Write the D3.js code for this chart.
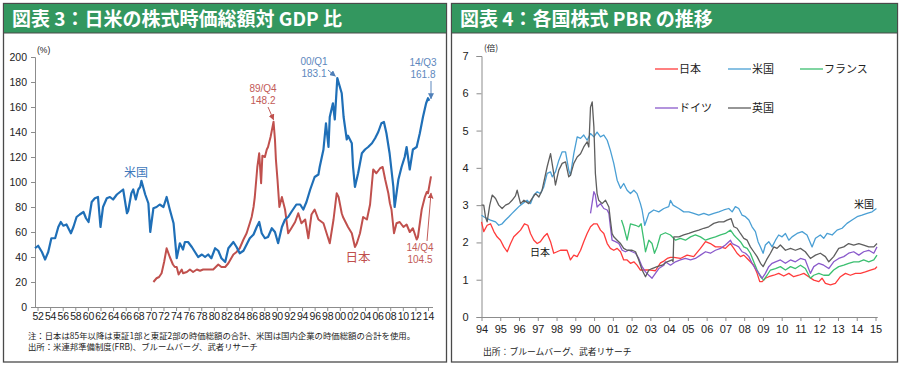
<!DOCTYPE html>
<html>
<head>
<meta charset="utf-8">
<script src="https://cdn.jsdelivr.net/npm/d3@7"></script>
<style>
  body { margin: 0; background: #fff; }
  svg { display: block; }
  .jp { font-family: "Noto Sans CJK JP", sans-serif; }
  .num { font-family: "Liberation Sans", Arial, sans-serif; }
</style>
</head>
<body>
<svg id="chart" width="900" height="366"></svg>
<script>
// ---- 図表3 : 株式時価総額対GDP比 (%), [年, 値]
const usGdp = [
  [1952.0,47],[1952.5,49],[1953.1,44],[1953.6,38],[1954.1,44],[1954.6,55],[1955.2,55],[1955.7,64],
  [1956.1,68],[1956.5,65],[1957.0,66],[1957.3,63],[1957.7,59],[1958.1,64],[1958.6,72],[1959.1,74],
  [1959.7,76],[1960.1,71],[1960.5,68],[1961.0,84],[1961.5,87],[1962.0,88],[1962.4,64],[1962.8,80],
  [1963.4,87],[1963.9,88],[1964.4,86],[1965.0,90],[1965.5,92],[1966.0,94],[1966.6,75],[1966.8,77],
  [1967.3,91],[1967.6,94],[1968.0,86],[1968.4,94],[1968.7,96],[1968.9,101],[1969.5,90],[1970.0,83],
  [1970.3,60],[1970.8,79],[1971.3,80],[1971.8,82],[1972.4,80],[1972.9,88],[1973.4,78],[1974.0,67],
  [1974.5,39],[1975.0,51],[1975.5,46],[1975.8,52],[1976.3,52],[1976.9,48],[1977.4,44],[1977.9,40],
  [1978.5,42],[1979.0,40],[1979.5,42],[1980.0,39],[1980.6,47],[1981.1,45],[1981.6,39],[1982.2,36],
  [1982.7,47],[1983.5,52],[1984.0,48],[1984.5,43],[1985.1,45],[1985.6,50],[1986.1,55],[1986.7,58],
  [1987.2,64],[1987.6,68],[1988.0,59],[1988.5,55],[1989.0,56],[1989.6,63],[1990.1,60],[1990.6,51],
  [1991.2,64],[1991.7,70],[1992.2,72],[1992.7,76],[1993.5,82],[1994.1,82],[1994.6,78],[1995.1,84],
  [1995.7,94],[1996.4,104],[1997.0,106],[1997.2,112],[1997.8,126],[1998.2,147],[1998.6,128],[1998.8,152],
  [1999.3,163],[1999.6,150],[2000.0,183.1],[2000.7,171],[2001.0,152],[2001.5,134],[2001.7,137],[2002.3,131],
  [2002.5,112],[2002.8,96],[2003.3,107],[2003.9,123],[2004.4,126],[2004.9,128],[2005.5,131],[2006.0,135],
  [2006.5,140],[2007.0,147],[2007.4,148],[2007.8,139],[2008.3,123],[2008.9,96],[2009.1,80],[2009.7,102],
  [2010.2,112],[2010.7,120],[2011.0,128],[2011.5,110],[2012.0,126],[2012.6,128],[2013.1,139],[2013.6,152],
  [2014.1,163],[2014.4,167],[2014.6,165]
];
const jpGdp = [
  [1970.8,20],[1971.3,23],[1971.7,24],[1972.1,27],[1972.5,36],[1972.9,47],[1973.4,40],[1973.9,34],
  [1974.2,32],[1974.5,32],[1974.8,26],[1975.3,30],[1975.5,27],[1976.1,28],[1976.6,30],[1977.1,28],
  [1977.7,30],[1978.2,29],[1978.7,30],[1979.2,30],[1979.8,30],[1980.3,30],[1981.1,34],[1981.6,32],
  [1982.2,32],[1982.7,35],[1983.5,42],[1984.0,44],[1984.5,47],[1985.1,54],[1985.6,59],[1986.1,67],
  [1986.4,72],[1986.7,80],[1986.9,88],[1987.3,112],[1987.6,123],[1987.9,99],[1988.1,121],[1988.5,120],
  [1988.8,126],[1989.0,128],[1989.4,136],[1989.875,148.2],[1990.1,134],[1990.25,118],[1990.5,102],[1990.8,80],
  [1991.2,88],[1991.7,78],[1992.2,59],[1992.7,63],[1993.3,68],[1993.8,75],[1994.3,67],[1994.9,70],
  [1995.4,55],[1995.9,74],[1996.4,78],[1997.0,70],[1997.8,67],[1998.3,59],[1998.8,51],[1999.4,70],
  [1999.9,91],[2000.2,88],[2000.7,75],[2000.9,72],[2001.7,64],[2002.3,59],[2002.8,48],[2003.1,51],
  [2003.6,59],[2004.1,72],[2004.7,70],[2005.2,82],[2005.7,110],[2006.2,107],[2006.8,111],[2007.2,112],
  [2007.6,102],[2008.1,91],[2008.35,83],[2008.6,78],[2009.0,59],[2009.4,67],[2009.9,68],[2010.5,64],
  [2011.0,66],[2011.5,60],[2012.0,63],[2012.6,54],[2012.8,56],[2013.4,78],[2013.9,88],[2014.2,92],
  [2014.4,91],[2014.875,104.5]
];
const gdpYTicks = [0, 20, 40, 60, 80, 100, 120, 140, 160, 180, 200];
const gdpXLabels = ["52","54","56","58","60","62","64","66","68","70","72","74","76","78","80","82",
  "84","86","88","90","92","94","96","98","00","02","04","06","08","10","12","14"];

// ---- 図表4 : 各国株式PBR (倍), [年, 値]
const pbrSeries = ["日本", "米国", "フランス", "ドイツ", "英国"];
const pbrJapan = [
  [1994.0,2.55],[1994.12,2.29],[1994.3,2.46],[1994.48,2.5],[1994.66,2.29],[1994.83,2.15],[1995.01,2.06],
  [1995.19,1.88],[1995.37,1.75],[1995.55,1.97],[1995.72,2.15],[1995.9,2.24],[1996.08,2.33],[1996.29,2.5],
  [1996.47,2.46],[1996.61,2.24],[1996.79,2.06],[1996.97,1.97],[1997.14,2.02],[1997.32,2.15],[1997.5,2.24],
  [1997.68,2.02],[1997.85,1.71],[1998.03,1.75],[1998.21,1.79],[1998.39,1.79],[1998.56,1.79],[1998.74,1.53],
  [1998.92,1.66],[1999.1,1.62],[1999.28,1.79],[1999.45,2.02],[1999.63,2.24],[1999.81,2.42],[1999.99,2.5],
  [2000.16,2.5],[2000.34,2.33],[2000.52,2.24],[2000.7,1.97],[2000.87,1.84],[2001.05,1.79],[2001.23,1.84],
  [2001.41,1.75],[2001.58,1.53],[2001.76,1.53],[2001.94,1.44],[2002.12,1.48],[2002.29,1.39],[2002.47,1.26],
  [2002.65,1.26],[2003.01,1.26],[2003.27,1.24],[2003.54,1.45],[2003.72,1.5],[2003.9,1.57],[2004.07,1.6],
  [2004.25,1.6],[2004.6,1.57],[2004.96,1.66],[2005.31,1.62],[2005.67,1.84],[2005.94,2.02],[2006.2,1.97],
  [2006.47,1.88],[2006.74,1.88],[2007.0,1.84],[2007.27,1.97],[2007.45,1.84],[2007.62,1.71],[2007.8,1.62],
  [2007.98,1.66],[2008.16,1.57],[2008.33,1.48],[2008.51,1.39],[2008.69,1.17],[2008.83,0.95],[2008.96,0.95],
  [2009.13,1.04],[2009.31,1.08],[2009.58,1.12],[2009.84,1.17],[2010.11,1.1],[2010.38,1.17],[2010.64,1.08],
  [2010.91,1.12],[2011.18,1.17],[2011.44,1.08],[2011.71,0.99],[2011.98,0.95],[2012.15,1.04],[2012.33,0.9],
  [2012.6,0.86],[2012.86,0.9],[2013.13,1.08],[2013.4,1.17],[2013.66,1.12],[2013.93,1.17],[2014.2,1.17],
  [2014.46,1.21],[2014.73,1.26],[2014.99,1.3],[2015.08,1.35]
];
const pbrUs = [
  [1994.0,2.73],[1994.12,2.69],[1994.3,2.64],[1994.48,2.6],[1994.75,2.55],[1994.92,2.46],[1995.1,2.5],
  [1995.28,2.6],[1995.46,2.69],[1995.63,2.78],[1995.81,2.87],[1995.99,2.96],[1996.08,3.0],[1996.43,3.13],
  [1996.61,3.04],[1996.79,3.27],[1996.97,3.36],[1997.14,3.31],[1997.32,3.49],[1997.5,3.85],[1997.68,3.89],
  [1997.77,3.76],[1997.94,3.89],[1998.12,4.2],[1998.3,4.43],[1998.48,4.43],[1998.65,3.94],[1998.74,3.8],
  [1998.92,4.38],[1999.1,4.83],[1999.28,4.79],[1999.45,4.88],[1999.63,4.74],[1999.81,4.92],[1999.99,4.83],
  [2000.16,4.96],[2000.34,4.83],[2000.52,4.88],[2000.7,4.74],[2000.87,4.47],[2001.05,4.12],[2001.23,3.67],
  [2001.41,3.45],[2001.58,3.58],[2001.76,3.4],[2001.94,3.31],[2002.12,3.4],[2002.29,3.31],[2002.47,3.04],
  [2002.56,2.87],[2002.7,2.46],[2002.92,2.78],[2003.18,2.87],[2003.45,2.82],[2003.72,2.91],[2003.98,2.96],
  [2004.07,3.13],[2004.21,3.0],[2004.52,2.91],[2004.78,2.82],[2005.05,2.82],[2005.31,2.78],[2005.58,2.73],
  [2005.85,2.78],[2006.11,2.73],[2006.38,2.78],[2006.65,2.82],[2006.91,2.87],[2007.18,2.91],[2007.36,2.82],
  [2007.53,2.96],[2007.71,2.91],[2007.89,2.73],[2008.07,2.69],[2008.25,2.6],[2008.42,2.42],[2008.6,2.29],
  [2008.74,2.02],[2008.87,1.88],[2009.01,1.71],[2009.13,1.93],[2009.31,2.02],[2009.49,1.88],[2009.67,2.06],
  [2009.84,2.2],[2010.02,2.15],[2010.2,2.24],[2010.38,2.06],[2010.55,2.15],[2010.82,2.24],[2011.09,2.29],
  [2011.35,2.2],[2011.62,1.88],[2011.8,2.11],[2012.06,2.2],[2012.24,2.11],[2012.42,2.24],[2012.69,2.2],
  [2012.95,2.33],[2013.22,2.38],[2013.48,2.51],[2013.75,2.6],[2014.02,2.69],[2014.28,2.73],[2014.55,2.78],
  [2014.82,2.82],[2015.05,2.91]
];
const pbrFrance = [
  [2001.46,2.6],[2001.58,2.42],[2001.76,2.06],[2001.94,2.5],[2002.21,2.46],[2002.38,2.42],[2002.51,2.5],
  [2002.65,2.06],[2002.74,1.75],[2002.92,2.06],[2003.09,1.97],[2003.22,1.71],[2003.36,1.88],[2003.54,2.2],
  [2003.8,2.26],[2004.07,2.2],[2004.34,2.06],[2004.6,2.11],[2004.87,2.06],[2005.14,2.15],[2005.4,2.2],
  [2005.67,2.15],[2005.94,2.06],[2006.2,2.11],[2006.47,2.15],[2006.74,2.2],[2007.0,2.24],[2007.27,2.33],
  [2007.45,2.2],[2007.62,2.11],[2007.8,2.02],[2007.98,1.88],[2008.16,1.84],[2008.33,1.71],[2008.51,1.48],
  [2008.69,1.26],[2008.87,1.08],[2009.04,0.99],[2009.22,1.12],[2009.4,1.26],[2009.67,1.3],[2009.93,1.35],
  [2010.2,1.26],[2010.47,1.35],[2010.73,1.3],[2011.0,1.39],[2011.26,1.3],[2011.53,1.04],[2011.71,1.12],
  [2011.98,1.17],[2012.24,1.12],[2012.51,1.12],[2012.77,1.26],[2013.04,1.35],[2013.31,1.39],[2013.57,1.44],
  [2013.84,1.48],[2014.11,1.48],[2014.37,1.53],[2014.64,1.48],[2014.91,1.53],[2015.08,1.66]
];
const pbrGermany = [
  [1999.81,2.78],[1999.99,3.36],[2000.07,3.27],[2000.16,2.95],[2000.34,3.04],[2000.52,2.91],[2000.7,2.87],
  [2000.79,2.78],[2000.87,2.42],[2000.96,2.06],[2001.14,2.02],[2001.32,1.97],[2001.5,1.79],[2001.67,1.75],
  [2001.85,1.79],[2002.03,1.75],[2002.21,1.71],[2002.38,1.57],[2002.56,1.35],[2002.74,1.21],[2002.92,1.12],
  [2003.09,1.04],[2003.27,1.17],[2003.45,1.3],[2003.72,1.39],[2003.8,1.48],[2004.07,1.39],[2004.34,1.48],
  [2004.6,1.53],[2004.87,1.57],[2005.14,1.53],[2005.4,1.57],[2005.67,1.66],[2005.94,1.75],[2006.2,1.71],
  [2006.47,1.79],[2006.74,1.84],[2007.0,1.93],[2007.27,2.06],[2007.36,1.97],[2007.53,1.93],[2007.71,1.88],
  [2007.89,1.75],[2008.07,1.71],[2008.25,1.62],[2008.42,1.44],[2008.6,1.3],[2008.78,1.17],[2008.96,1.04],
  [2009.13,1.17],[2009.31,1.35],[2009.49,1.44],[2009.67,1.48],[2009.93,1.53],[2010.2,1.44],[2010.47,1.53],
  [2010.73,1.48],[2011.0,1.57],[2011.26,1.53],[2011.53,1.17],[2011.71,1.35],[2011.98,1.44],[2012.24,1.39],
  [2012.51,1.3],[2012.77,1.48],[2013.04,1.57],[2013.31,1.62],[2013.57,1.71],[2013.84,1.75],[2014.11,1.66],
  [2014.37,1.75],[2014.64,1.79],[2014.91,1.71],[2015.08,1.88]
];
const pbrUk = [
  [1994.0,3.0],[1994.12,3.0],[1994.21,2.69],[1994.3,2.55],[1994.44,3.0],[1994.57,3.27],[1994.75,3.18],
  [1994.92,3.0],[1995.1,2.91],[1995.28,3.0],[1995.46,3.04],[1995.63,3.13],[1995.81,3.25],[1995.9,3.4],
  [1996.08,3.04],[1996.26,3.13],[1996.52,3.04],[1996.7,3.18],[1996.88,3.31],[1997.06,3.22],[1997.23,3.4],
  [1997.5,4.03],[1997.68,4.38],[1997.85,3.85],[1997.94,3.54],[1998.12,3.94],[1998.3,4.12],[1998.48,4.16],
  [1998.65,3.76],[1998.74,3.8],[1998.92,4.12],[1999.1,4.29],[1999.28,4.38],[1999.45,4.56],[1999.63,4.7],
  [1999.72,4.56],[1999.81,5.63],[1999.9,5.77],[1999.99,5.1],[2000.07,3.85],[2000.16,3.31],[2000.25,3.13],
  [2000.43,3.04],[2000.61,3.13],[2000.79,2.95],[2000.87,2.6],[2000.96,2.24],[2001.05,2.15],[2001.23,2.06],
  [2001.41,1.97],[2001.58,1.84],[2001.76,1.79],[2002.03,1.79],[2002.21,1.75],[2002.38,1.53],[2002.56,1.26],
  [2002.74,1.08],[2002.92,1.26],[2003.09,1.3],[2003.36,1.35],[2003.63,1.39],[2003.89,1.48],[2004.16,1.53],
  [2004.21,1.48],[2004.25,2.15],[2004.52,2.15],[2004.78,2.2],[2005.05,2.24],[2005.31,2.29],[2005.58,2.33],
  [2005.85,2.38],[2006.11,2.42],[2006.38,2.51],[2006.65,2.55],[2006.91,2.55],[2007.09,2.6],[2007.3,2.64],
  [2007.45,2.42],[2007.62,2.38],[2007.8,2.24],[2007.98,2.11],[2008.16,2.06],[2008.33,1.88],[2008.51,1.75],
  [2008.69,1.62],[2008.87,1.44],[2009.01,1.35],[2009.19,1.53],[2009.4,1.71],[2009.58,1.88],[2009.75,1.84],
  [2009.93,1.93],[2010.2,1.79],[2010.47,1.84],[2010.73,1.79],[2011.0,1.84],[2011.26,1.75],[2011.53,1.57],
  [2011.8,1.66],[2012.06,1.71],[2012.33,1.62],[2012.51,1.48],[2012.77,1.62],[2013.04,1.84],[2013.31,1.88],
  [2013.57,1.97],[2013.84,1.93],[2014.11,1.97],[2014.37,1.93],[2014.64,1.88],[2014.91,1.88],[2015.08,1.97]
];
const pbrYTicks = [0, 1, 2, 3, 4, 5, 6, 7];
const pbrXLabels = ["94","95","96","97","98","99","00","01","02","03","04","05","06","07","08","09",
  "10","11","12","13","14","15"];

const labelYear = l => (+l < 50 ? 2000 : 1900) + (+l);

const svg = d3.select("#chart");

// ---- panels
function panel(x, w, title) {
    const g = svg.append("g");
    g.append("rect").attr("x", x + 0.5).attr("y", 3.5).attr("width", w).attr("height", 358.5)
        .attr("fill", "#fff").attr("stroke", "#4a4a4a").attr("stroke-width", 1.3);
    g.append("rect").attr("x", x + 0.5).attr("y", 3.5).attr("width", w).attr("height", 29.5)
        .attr("fill", "#33975f").attr("stroke", "#4a4a4a").attr("stroke-width", 1);
    g.append("text").attr("class", "jp").attr("x", x + 9).attr("y", 25.5)
        .attr("fill", "#fff").style("font-size", "19px").style("font-weight", "bold").text(title);
}
panel(3, 443, "図表 3：日米の株式時価総額対 GDP 比");
panel(451, 446, "図表 4：各国株式 PBR の推移");

const defs = svg.append("defs");
function arrowHead(id, color) {
    defs.append("marker").attr("id", id).attr("viewBox", "0 0 10 10").attr("refX", 9).attr("refY", 5)
        .attr("markerWidth", 6).attr("markerHeight", 6).attr("orient", "auto")
        .append("path").attr("d", "M0,0L10,5L0,10z").attr("fill", color);
}
arrowHead("arBlue", "#4f7fb8");
arrowHead("arRed", "#c0504d");

// ---- chart 3
const xL = d3.scaleLinear().domain([1952, 2014.875]).range([35, 431]);
const yL = d3.scaleLinear().domain([0, 200]).range([307, 57]);

const gL = svg.append("g");
const yAxisL = gL.append("g").attr("transform", `translate(${xL(1952)},0)`)
    .call(d3.axisLeft(yL).tickValues(gdpYTicks).tickSize(4).tickPadding(4));
const xAxisL = gL.append("g").attr("transform", `translate(0,${yL(0)})`)
    .call(d3.axisBottom(xL)
        .tickValues(gdpXLabels.map(l => labelYear(l) + 0.4)).tickFormat((d, i) => gdpXLabels[i])
        .tickSize(4).tickPadding(2));
xAxisL.select(".domain").attr("d", `M35,0.5H433`);
[yAxisL, xAxisL].forEach(a => {
    a.select(".domain").attr("stroke", "#8c8c8c");
    a.selectAll(".tick line").attr("stroke", "#8c8c8c");
    a.selectAll("text").attr("class", "num").style("font-size", "10.5px").attr("fill", "#222");
});
xAxisL.selectAll("text").style("letter-spacing", "-0.2px");
gL.append("text").attr("class", "num").attr("x", 37).attr("y", 53).style("font-size", "8.5px")
    .attr("fill", "#222").text("(%)");

const lineL = d3.line().x(d => xL(d[0])).y(d => yL(d[1]));
gL.append("path").datum(jpGdp).attr("d", lineL).attr("fill", "none")
    .attr("stroke", "#c0504d").attr("stroke-width", 2).attr("stroke-linejoin", "round");
gL.append("path").datum(usGdp).attr("d", lineL).attr("fill", "none")
    .attr("stroke", "#1f6fb7").attr("stroke-width", 2.2).attr("stroke-linejoin", "round");

function note(g, x, y, lines, color, anchor) {
    lines.forEach((t, i) => g.append("text").attr("class", "num").attr("x", x).attr("y", y + i * 11.5)
        .attr("text-anchor", anchor || "middle").style("font-size", "10px").attr("fill", color).text(t));
}
note(gL, 314, 65, ["00/Q1", "183.1"], "#5d87bd");
gL.append("line").attr("x1", 328).attr("y1", 70).attr("x2", xL(2000) - 2).attr("y2", yL(183.1) - 2)
    .attr("stroke", "#5d87bd").attr("marker-end", "url(#arBlue)");
note(gL, 423, 66, ["14/Q3", "161.8"], "#5d87bd");
gL.append("line").attr("x1", 431).attr("y1", 81).attr("x2", 431).attr("y2", yL(165) - 2)
    .attr("stroke", "#5d87bd").attr("marker-end", "url(#arBlue)");
note(gL, 263, 92, ["89/Q4", "148.2"], "#c25a57");
gL.append("line").attr("x1", 268).attr("y1", 107).attr("x2", xL(1989.875)).attr("y2", yL(148.2) - 2)
    .attr("stroke", "#c25a57").attr("marker-end", "url(#arRed)");
note(gL, 420, 251, ["14/Q4", "104.5"], "#c25a57");
gL.append("line").attr("x1", 427).attr("y1", 241).attr("x2", 431).attr("y2", 193)
    .attr("stroke", "#c25a57").attr("marker-end", "url(#arRed)");

gL.append("text").attr("class", "jp").attr("x", 136).attr("y", 177).attr("text-anchor", "middle")
    .style("font-size", "12px").attr("fill", "#3f78bb").text("米国");
gL.append("text").attr("class", "jp").attr("x", 358).attr("y", 262).attr("text-anchor", "middle")
    .style("font-size", "12.5px").attr("fill", "#c0504d").text("日本");

gL.append("text").attr("class", "jp").attr("x", 28).attr("y", 339).style("font-size", "8.4px")
    .attr("fill", "#222").text("注：日本は85年以降は東証1部と東証2部の時価総額の合計、米国は国内企業の時価総額の合計を使用。");
gL.append("text").attr("class", "jp").attr("x", 28).attr("y", 349.5).style("font-size", "8.4px")
    .attr("fill", "#222").text("出所：米連邦準備制度(FRB)、ブルームバーグ、武者リサーチ");

// ---- chart 4
const xR = d3.scaleLinear().domain([1994, 2015]).range([481.5, 875.5]);
const yR = d3.scaleLinear().domain([0, 7]).range([317, 56]);
const colorR = d3.scaleOrdinal().domain(pbrSeries)
    .range(["#ff3b3b", "#4a9fd4", "#3bbf70", "#8a5acb", "#5e5e5e"]);

const gR = svg.append("g");
const yAxisR = gR.append("g").attr("transform", `translate(${xR(1994)},0)`)
    .call(d3.axisLeft(yR).tickValues(pbrYTicks).tickFormat(d3.format("d")).tickSize(5).tickPadding(8));
const xAxisR = gR.append("g").attr("transform", `translate(0,${yR(0)})`)
    .call(d3.axisBottom(xR).tickValues(pbrXLabels.map(labelYear)).tickFormat((d, i) => pbrXLabels[i])
        .tickSize(4).tickPadding(4));
xAxisR.select(".domain").attr("d", `M${xR(1994)},0.5H${xR(2015.12)}`);
[yAxisR, xAxisR].forEach(a => {
    a.select(".domain").attr("stroke", "#8c8c8c");
    a.selectAll(".tick line").attr("stroke", "#8c8c8c");
    a.selectAll("text").attr("class", "num").style("font-size", "11px").attr("fill", "#222");
});
gR.append("text").attr("class", "jp").attr("x", 484).attr("y", 51).style("font-size", "8.5px")
    .attr("fill", "#222").text("(倍)");

const lineR = d3.line().x(d => xR(d[0])).y(d => yR(d[1]));
const pbrData = [pbrJapan, pbrUs, pbrFrance, pbrGermany, pbrUk];
pbrData.forEach((s, i) => {
    gR.append("path").datum(s).attr("d", lineR).attr("fill", "none")
        .attr("stroke", colorR(pbrSeries[i])).attr("stroke-width", 1.3).attr("stroke-linejoin", "round");
});

// legend
const legendPos = [[655, 69], [728, 69], [800, 69], [655, 108], [728, 108]];
pbrSeries.forEach((name, i) => {
    const [lx, ly] = legendPos[i];
    gR.append("line").attr("x1", lx).attr("x2", lx + 23).attr("y1", ly).attr("y2", ly)
        .attr("stroke", colorR(name)).attr("stroke-width", 1.3);
    gR.append("text").attr("class", "jp").attr("x", lx + 24).attr("y", ly + 4)
        .style("font-size", "11px").attr("fill", "#222").text(name);
});

gR.append("text").attr("class", "jp").attr("x", 864).attr("y", 208).attr("text-anchor", "middle")
    .style("font-size", "10px").attr("fill", "#111").text("米国");
gR.append("text").attr("class", "jp").attr("x", 540).attr("y", 256).attr("text-anchor", "middle")
    .style("font-size", "10px").attr("fill", "#111").text("日本");

gR.append("text").attr("class", "jp").attr("x", 483).attr("y", 355).style("font-size", "8.8px")
    .attr("fill", "#222").text("出所：ブルームバーグ、武者リサーチ");
</script>
</body>
</html>
